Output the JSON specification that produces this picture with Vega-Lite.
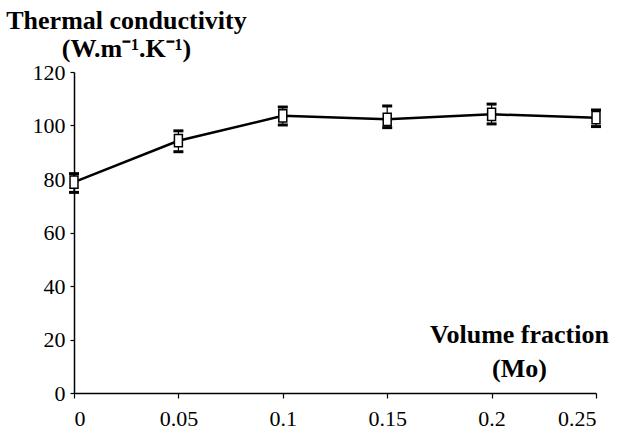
{
  "$schema": "https://vega.github.io/schema/vega-lite/v6.json",
  "width": 522,
  "height": 321,
  "autosize": {"type": "none"},
  "padding": {"left": 74, "top": 72, "right": 25, "bottom": 46},
  "background": "white",
  "config": {
    "view": {"stroke": null},
    "font": "Liberation Serif",
    "axis": {
      "grid": false,
      "domainColor": "black",
      "domainWidth": 1.5,
      "tickColor": "black",
      "tickWidth": 1.2,
      "labelColor": "black",
      "titleFontWeight": "bold",
      "titleColor": "black"
    }
  },
  "data": {
    "values": [
      {"x": 0.0, "k": 78.8, "lo": 75.0, "hi": 82.0},
      {"x": 0.05, "k": 94.3, "lo": 90.2, "hi": 98.0},
      {"x": 0.1, "k": 103.6, "lo": 100.2, "hi": 106.9},
      {"x": 0.15, "k": 102.3, "lo": 99.2, "hi": 107.3},
      {"x": 0.2, "k": 104.2, "lo": 100.6, "hi": 108.0},
      {"x": 0.25, "k": 102.9, "lo": 99.6, "hi": 105.8}
    ]
  },
  "encoding": {
    "x": {
      "field": "x",
      "type": "quantitative",
      "scale": {"domain": [0, 0.25], "nice": false, "zero": false},
      "axis": {
        "values": [0, 0.05, 0.1, 0.15, 0.2, 0.25],
        "labelExpr": "datum.value === 0 ? '0' : format(datum.value, '.2~f')",
        "labelFont": "Liberation Serif",
        "labelFontSize": 22,
        "labelPadding": 10,
        "tickSize": 5,
        "title": ["Volume fraction", "(Mo)"],
        "titleFont": "Liberation Serif",
        "titleFontSize": 26,
        "titleAngle": 0,
        "titleAlign": "center",
        "titleBaseline": "top",
        "titleLineHeight": 34,
        "titleX": 445,
        "titleY": -72
      }
    }
  },
  "layer": [
    {
      "mark": {"type": "line", "color": "black", "strokeWidth": 2.5},
      "encoding": {
        "y": {
          "field": "k",
          "type": "quantitative",
          "scale": {"domain": [0, 120], "nice": false},
          "axis": {
            "values": [0, 20, 40, 60, 80, 100, 120],
            "labelFont": "Liberation Serif",
            "labelFontSize": 22,
            "tickSize": 4,
            "labelPadding": 5,
            "title": ["Thermal conductivity", "(W.m⁻¹.K⁻¹)"],
            "titleFont": "Liberation Serif",
            "titleFontSize": 26,
            "titleAngle": 0,
            "titleAlign": "center",
            "titleBaseline": "top",
            "titleLineHeight": 28,
            "titleX": 52,
            "titleY": -65
          }
        }
      }
    },
    {
      "mark": {"type": "rule", "color": "black", "strokeWidth": 1.2},
      "encoding": {
        "y": {"field": "lo", "type": "quantitative"},
        "y2": {"field": "hi"}
      }
    },
    {
      "mark": {"type": "tick", "color": "black", "opacity": 1, "thickness": 3, "size": 10, "orient": "horizontal"},
      "encoding": {"y": {"field": "lo", "type": "quantitative"}}
    },
    {
      "mark": {"type": "tick", "color": "black", "opacity": 1, "thickness": 3, "size": 10, "orient": "horizontal"},
      "encoding": {"y": {"field": "hi", "type": "quantitative"}}
    },
    {
      "mark": {
        "type": "point",
        "filled": true,
        "fill": "white",
        "stroke": "black",
        "strokeWidth": 1.5,
        "opacity": 1,
        "shape": "M-0.65,-1L0.65,-1L0.65,1L-0.65,1Z",
        "size": 150
      },
      "encoding": {"y": {"field": "k", "type": "quantitative"}}
    }
  ]
}
